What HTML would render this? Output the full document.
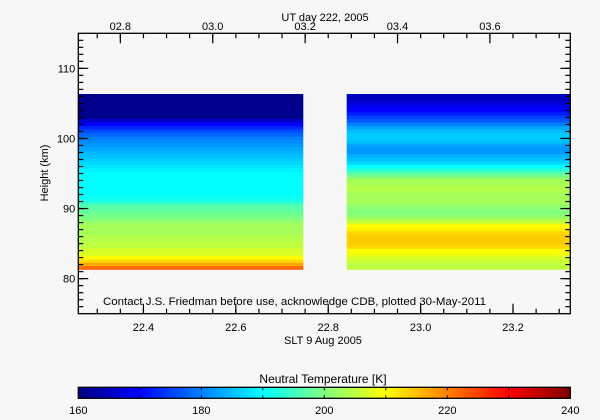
<!DOCTYPE html>
<html><head><meta charset="utf-8"><style>
html,body{margin:0;padding:0;background:#f7f7f7;}
svg{display:block;font-family:"Liberation Sans",sans-serif;}
text{fill:#000;font-size:11px;}
</style></head><body>
<svg id="chart" width="600" height="420" viewBox="0 0 600 420" xmlns="http://www.w3.org/2000/svg">
<rect width="600" height="420" fill="#f7f7f7"/>
<g id="data"></g>
<g id="axes"></g>
<g id="cbar"></g>
<text x="325" y="21" text-anchor="middle">UT day 222, 2005</text>
<text x="323" y="344" text-anchor="middle">SLT 9 Aug 2005</text>
<text transform="translate(48,173) rotate(-90)" text-anchor="middle">Height (km)</text>
<text x="103" y="305" textLength="383" lengthAdjust="spacingAndGlyphs">Contact J.S. Friedman before use, acknowledge CDB, plotted 30-May-2011</text>
<text x="323" y="383" text-anchor="middle" font-size="12" style="font-size:12px">Neutral Temperature [K]</text>
</svg>
<script>
const blockStarts = [22.259, 22.84];
const blockEnds = [22.746, 23.324];
const gateBottom = 81.3;
const gateStep = 0.5;
const temps1 = [222,217,213,210,207,207,205,205,204,204,203,203,203,202,200,199,198,197,196,192,191,190,190,190,190,190,190,190,189,188,187,186,185,184,183,182,181,180,178,176,173,170,166,161,161,161,161,161,161,161];
const temps2 = [205,205,206,207,209,210,213,214,214,214,213,211,210,206,203,201,200,201,202,203,203,203,204,204,203,203,200,197,193,190,187,185,184,182,182,183,185,186,186,185,183,180,177,175,172,170,169,167,165,165];
const xTicks = [22.4, 22.6, 22.8, 23.0, 23.2];
const xTickLabels = ["22.4","22.6","22.8","23.0","23.2"];
const utTicks = [2.8, 3.0, 3.2, 3.4, 3.6];
const utTickLabels = ["02.8","03.0","03.2","03.4","03.6"];
const yTicks = [80, 90, 100, 110];
const yTickLabels = ["80","90","100","110"];
const cTicks = [160, 180, 200, 220, 240];
const cTickLabels = ["160","180","200","220","240"];

const NS = "http://www.w3.org/2000/svg";
const L = 78.3, R = 570.3, T = 33.3, B = 313.7;
const xMin = 22.259, xMax = 23.324, yMin = 75, yMax = 115;
const utMin = 2.709, utMax = utMin + (xMax - xMin);
const cMin = 160, cMax = 240, cbT = 387.3, cbB = 398.3;
const X = v => L + (v - xMin) / (xMax - xMin) * (R - L);
const XU = v => L + (v - utMin) / (utMax - utMin) * (R - L);
const Y = v => B - (v - yMin) / (yMax - yMin) * (B - T);
const C = v => L + (v - cMin) / (cMax - cMin) * (R - L);
function jet(v){
  const t = Math.max(0, Math.min(1, (v - cMin) / (cMax - cMin)));
  const f = x => Math.round(255 * Math.max(0, Math.min(1, 1.5 - Math.abs(x))));
  return `rgb(${f(4*t-3)},${f(4*t-2)},${f(4*t-1)})`;
}
function el(tag, attrs, parent){
  const e = document.createElementNS(NS, tag);
  for (const k in attrs) e.setAttribute(k, attrs[k]);
  parent.appendChild(e);
  return e;
}
const gData = document.getElementById('data');
[temps1, temps2].forEach((arr, b) => {
  arr.forEach((t, i) => {
    const h0 = gateBottom + i * gateStep, h1 = h0 + gateStep;
    const r = el('rect', {x: X(blockStarts[b]), y: Y(h1) - 0.3, width: X(blockEnds[b]) - X(blockStarts[b]), height: Y(h0) - Y(h1) + 0.6, fill: jet(t)}, gData);
    
    
  });
});
const gA = document.getElementById('axes');
const frame = el('rect', {x: L, y: T, width: R - L, height: B - T, fill: 'none', stroke: '#000', 'stroke-width': 1.3}, gA);


const line = (x1,y1,x2,y2) => el('line', {x1,y1,x2,y2,stroke:'#000','stroke-width':1.2}, gA);
// bottom minor/major
for (let v = 22.3; v <= xMax; v += 0.05) {
  const x = X(v); const major = Math.abs((v*10) % 2) < 0.01 || Math.abs((v*10)%2-2)<0.01;
  line(x, B, x, B - 5);
}
xTicks.forEach((v, i) => {
  line(X(v), B, X(v), B - 10);
  const t = el('text', {x: X(v), y: 331, 'text-anchor': 'middle'}, gA);
  t.textContent = xTickLabels[i];
  
  
});
for (let v = 2.75; v <= utMax; v += 0.05) { line(XU(v), T, XU(v), T + 5); }
utTicks.forEach((v, i) => {
  line(XU(v), T, XU(v), T + 10);
  const t = el('text', {x: XU(v), y: 30, 'text-anchor': 'middle'}, gA);
  t.textContent = utTickLabels[i];
  
  
});
for (let v = 76; v < yMax; v += 1) { line(L, Y(v), L + 5, Y(v)); line(R, Y(v), R - 5, Y(v)); }
yTicks.forEach((v, i) => {
  line(L, Y(v), L + 10, Y(v)); line(R, Y(v), R - 10, Y(v));
  const t = el('text', {x: L - 3, y: Y(v) + 4, 'text-anchor': 'end'}, gA);
  t.textContent = yTickLabels[i];
  
  
});
const gC = document.getElementById('cbar');
for (let v = cMin; v < cMax; v += 0.5) {
  const r = el('rect', {x: C(v), y: cbT, width: C(v + 0.5) - C(v) + 0.3, height: cbB - cbT, fill: jet(v + 0.25)}, gC);
  
  
}
el('rect', {x: L, y: cbT, width: R - L, height: cbB - cbT, fill: 'none', stroke: '#000', 'stroke-width': 1.3}, gC);
for (let v = 170; v < cMax; v += 10) {
  el('line', {x1: C(v), y1: cbT, x2: C(v), y2: cbT + 3, stroke: '#000'}, gC);
  el('line', {x1: C(v), y1: cbB, x2: C(v), y2: cbB - 3, stroke: '#000'}, gC);
}
cTicks.forEach((v, i) => {
  const t = el('text', {x: C(v), y: 414, 'text-anchor': 'middle'}, gC);
  t.textContent = cTickLabels[i];
  
  
});
</script>
</body></html>
